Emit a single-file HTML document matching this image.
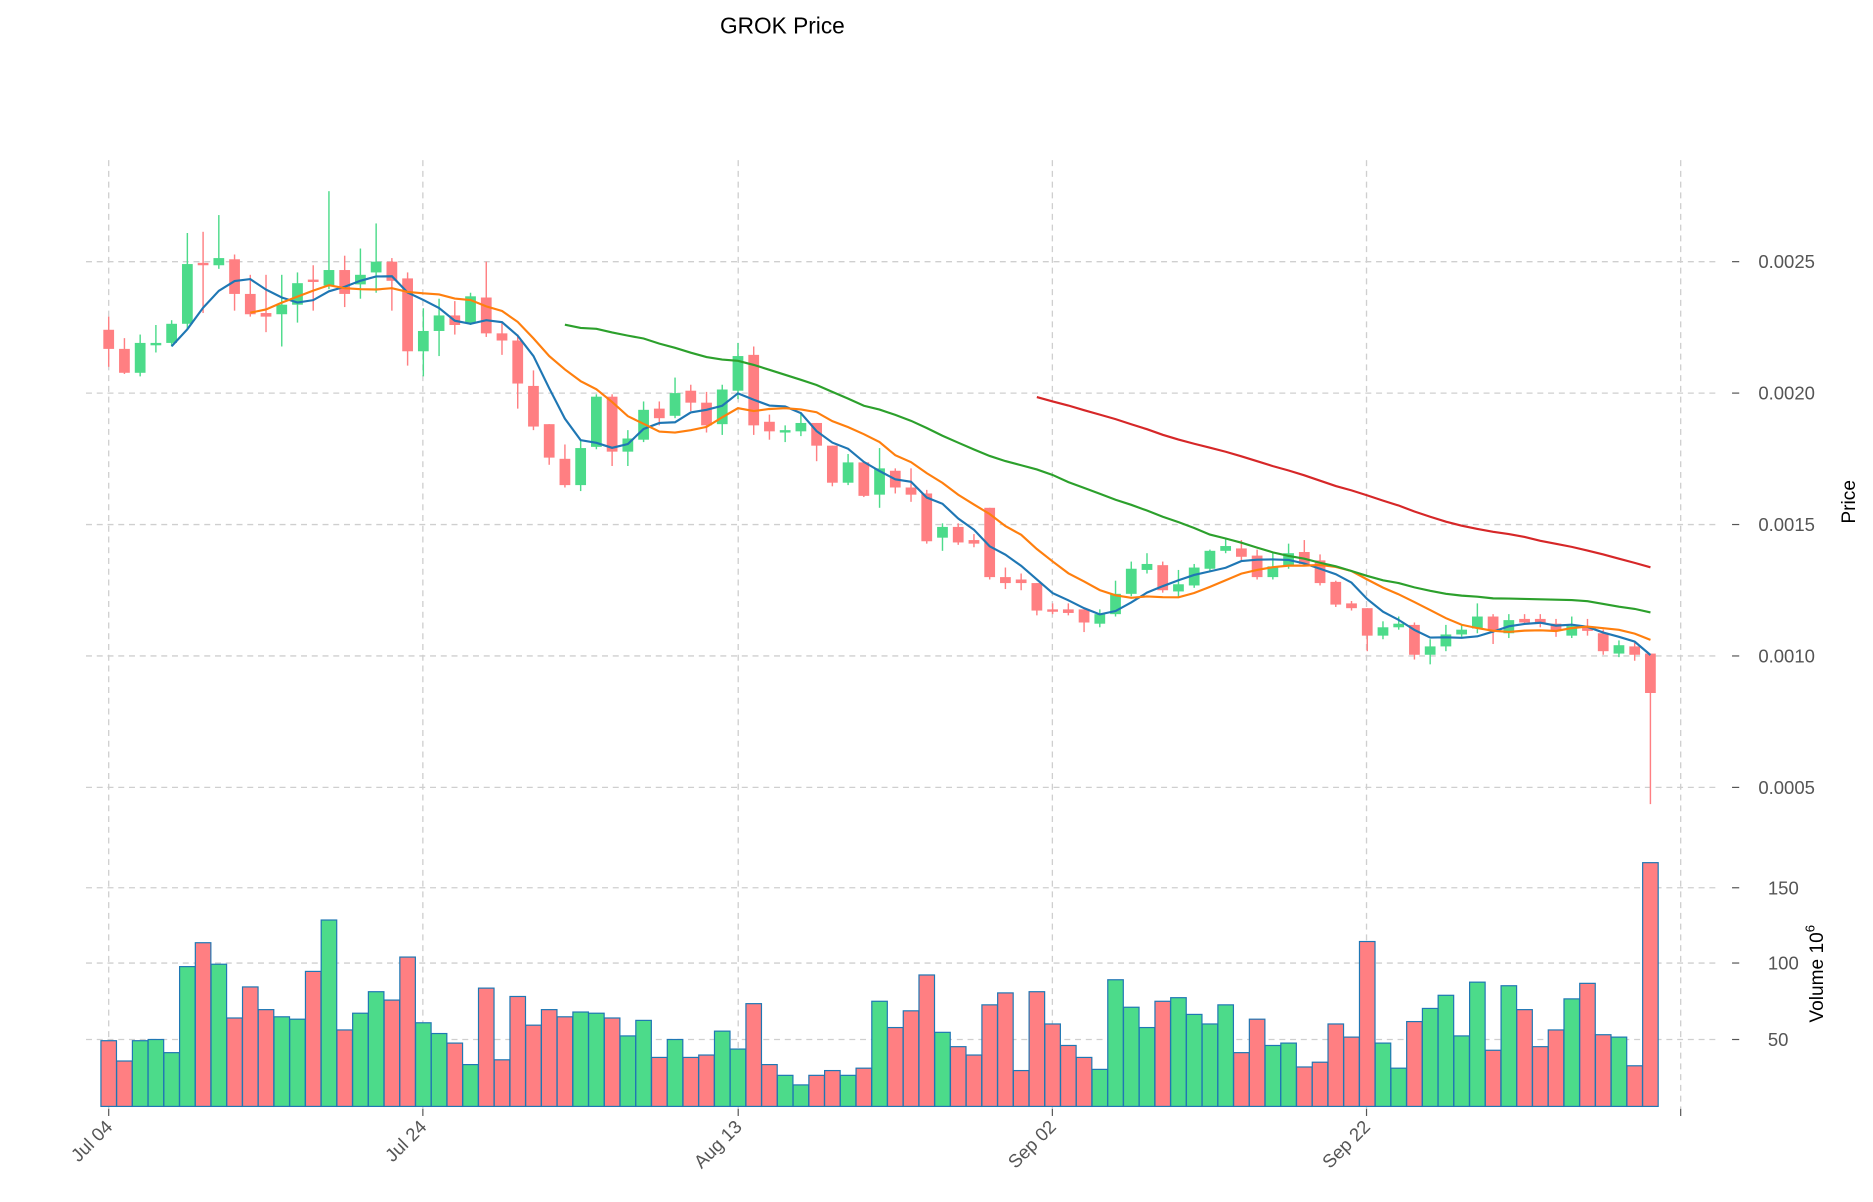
<!DOCTYPE html>
<html><head><meta charset="utf-8"><style>html,body{margin:0;padding:0;background:#fff}svg{display:block}</style></head>
<body>
<svg id="s" width="1873" height="1202" viewBox="0 0 1568 1006" preserveAspectRatio="none" xmlns="http://www.w3.org/2000/svg" font-family="Liberation Sans, DejaVu Sans, sans-serif">
<rect width="1568" height="1006" fill="#fff"/>
<g id="grid"></g><g id="vol"></g><g id="cand"></g><g id="ma"></g><g id="lab"></g>
<text x="655" y="28" font-size="19" text-anchor="middle" fill="#000">GROK Price</text>
</svg>
<script>
const NS="http://www.w3.org/2000/svg";
function el(p,t,a,txt){const e=document.createElementNS(NS,t);for(const k in a)e.setAttribute(k,a[k]);if(txt!==undefined)e.textContent=txt;document.getElementById(p).appendChild(e);return e;}
const G="#4cdb8a",R="#ff7f82";
// [green?, bodyTop, bodyBot, wickTop, wickBot]
const C=[[0,276,292,265,307],[0,292,312,283,313],[1,287,312,280,315],[1,287,289,272,295],[1,271,287,268,290],[1,221,271,195,275],[0,220,222,194,262],[1,216,222,180,225],[0,217,246,213,260],[0,246,263,230,265],
[0,262,265,230,278],[1,255,263,230,290],[1,237,255,228,270],[0,234,236,222,260],[1,226,239,160,242],[0,226,246,214,257],[1,230,238,208,250],[1,219,228,187,245],[0,219,235,216,260],[0,233,294,228,306],
[1,277,294,258,315],[1,264,277,250,298],[0,264,272,252,280],[1,248,270,245,272],[0,249,279,219,282],[0,279,285,270,297],[0,285,321,280,342],[0,323,357,310,360],[0,355,383,355,389],[0,384,406,372,408],
[1,375,406,368,411],[1,332,374,330,376],[0,332,378,330,390],[1,367,378,360,390],[1,343,368,336,370],[0,342,350,336,356],[1,329,348,316,350],[0,327,337,322,344],[0,337,356,328,362],[1,326,355,322,364],
[1,298,327,287,334],[0,297,356,290,364],[0,353,361,347,368],[1,360,362,356,370],[1,354,361,345,365],[0,354,373,354,386],[0,373,404,373,407],[1,387,404,380,406],[0,387,415,387,416],[1,392,414,375,425],
[0,394,408,392,413],[0,408,414,392,420],[0,413,453,410,455],[1,441,450,438,461],[0,441,454,438,456],[0,452,455,447,458],[0,425,483,425,485],[0,483,488,475,493],[0,485,488,480,494],[0,488,511,488,515],
[0,510,512,505,514],[0,510,513,505,515],[0,510,521,510,529],[1,514,522,510,525],[1,497,514,486,516],[1,476,497,470,499],[1,472,477,463,480],[0,473,494,470,496],[1,489,495,477,500],[1,475,490,472,492],
[1,461,476,460,478],[1,457,461,450,463],[0,459,466,452,469],[0,465,483,460,485],[1,474,483,462,485],[1,463,474,455,476],[0,462,472,452,474],[0,469,488,464,490],[0,487,506,486,508],[0,505,509,503,511],
[0,509,532,509,545],[1,525,532,520,535],[1,522,525,516,527],[0,523,548,521,552],[1,541,548,535,556],[1,531,541,523,545],[1,527,531,523,533],[1,516,526,505,530],[0,516,528,514,539],[1,519,530,514,534],
[0,518,521,514,523],[0,518,522,514,525],[0,522,528,518,533],[1,524,532,516,534],[0,524,528,518,532],[0,530,545,527,548],[1,540,547,536,550],[0,541,548,538,553],[0,547,580,547,673]];
const V=[871,888,871,870,881,809,789,807,852,826,845,851,853,813,770,862,848,830,837,801,856,865,873,891,827,887,834,858,845,851,847,848,852,867,854,885,870,885,883,863,878,840,891,900,908,900,896,900,894,838,860,846,816,864,876,883,841,831,896,830,857,875,885,895,820,843,860,838,835,849,857,841,881,853,875,873,893,889,857,868,788,873,894,855,844,833,867,822,879,825,845,876,862,836,823,866,868,892,722];
const X=i=>91+13.17*i;
// grid
const gs={stroke:"#cfcfcf","stroke-width":1.1,"stroke-dasharray":"5,4"};
[91,354,618,881,1144,1407].forEach(x=>el("grid","line",Object.assign({x1:x,x2:x,y1:134,y2:928},gs)));
[219,329,439,549,659].forEach(y=>el("grid","line",Object.assign({x1:72,x2:1440,y1:y,y2:y},gs)));
[743,806,870].forEach(y=>el("grid","line",Object.assign({x1:72,x2:1440,y1:y,y2:y},gs)));
// volume
V.forEach((t,i)=>{el("vol","rect",{x:X(i)-6.5,y:t,width:13,height:926-t,fill:C[i][0]?G:R,stroke:"#1f77b4","stroke-width":1});});
// candles
C.forEach((c,i)=>{const col=c[0]?G:R,x=X(i);
el("cand","line",{x1:x,x2:x,y1:c[3],y2:c[4],stroke:col,"stroke-width":1.2});
el("cand","rect",{x:x-4.5,y:c[1],width:9,height:Math.max(1.5,c[2]-c[1]),fill:col});});
// MAs
const cl=C.map(c=>c[0]?c[1]:c[2]);
function ma(n,col){let pts=[];for(let i=n-1;i<cl.length;i++){let s=0;for(let j=i-n+1;j<=i;j++)s+=cl[j];pts.push(X(i).toFixed(1)+","+(s/n).toFixed(1));}
el("ma","polyline",{points:pts.join(" "),fill:"none",stroke:col,"stroke-width":1.8});}
ma(5,"#1f77b4");ma(10,"#ff7f0e");ma(30,"#2ca02c");ma(60,"#d62728");
// labels
const ls={"font-size":15.5,fill:"#555"};
[["0.0025",219],["0.0020",329],["0.0015",439],["0.0010",549],["0.0005",659],["150",743],["100",806],["50",870]].forEach(([t,y])=>{
el("lab","line",{x1:1450,x2:1456,y1:y,y2:y,stroke:"#555"});
el("lab","text",Object.assign({x:t.length>3?1472:1480,y:y+5.5},ls),t);});
el("lab","text",{x:0,y:0,"font-size":16,fill:"#000",transform:"translate(1553,420) rotate(-90)","text-anchor":"middle"},"Price");
const vt=el("lab","text",{x:0,y:0,"font-size":16,fill:"#000",transform:"translate(1526,815) rotate(-90)","text-anchor":"middle"},"Volume  10");
const sup=document.createElementNS(NS,"tspan");sup.setAttribute("dy","-7");sup.setAttribute("font-size","11");sup.textContent="6";vt.appendChild(sup);
[["Jul 04",91],["Jul 24",354],["Aug 13",618],["Sep 02",881],["Sep 22",1144]].forEach(([t,x])=>{
el("lab","line",{x1:x,x2:x,y1:928,y2:934,stroke:"#555"});
el("lab","text",Object.assign({x:0,y:0,transform:`translate(${x+4},${944}) rotate(-45)`,"text-anchor":"end"},ls),t);});
el("lab","line",{x1:1407,x2:1407,y1:928,y2:934,stroke:"#555"});
</script>
</body></html>
